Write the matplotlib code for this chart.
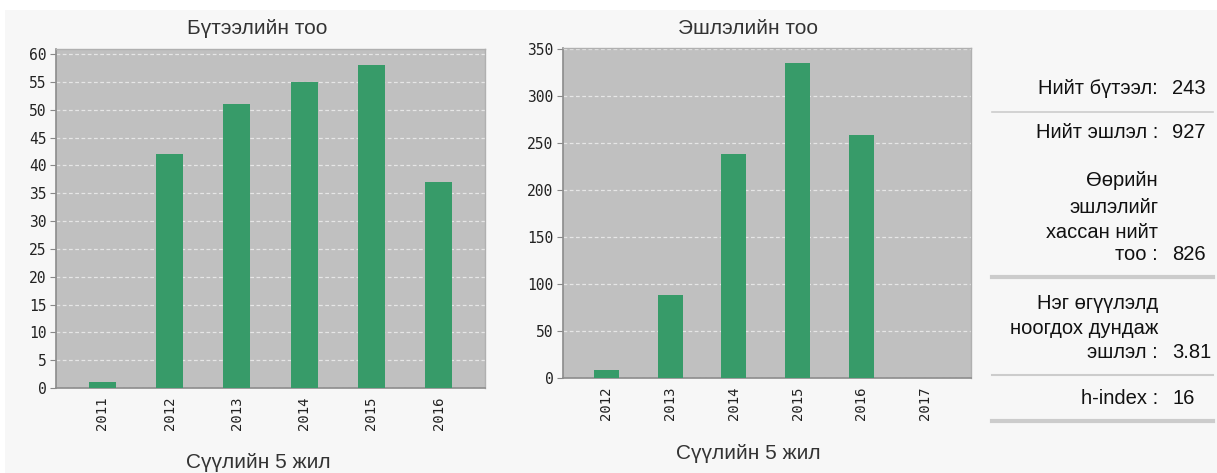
import matplotlib.pyplot as plt
from matplotlib.patches import Rectangle
import numpy as np

# data
pub_years = ['2011', '2012', '2013', '2014', '2015', '2016']
pub_counts = [1, 42, 51, 55, 58, 37]
cit_years = ['2012', '2013', '2014', '2015', '2016', '2017']
cit_counts = [8, 88, 238, 335, 258, 0]

stat_labels = [['Нийт бүтээл:'],
               ['Нийт эшлэл :'],
               ['Өөрийн', 'эшлэлийг', 'хассан нийт', 'тоо :'],
               ['Нэг өгүүлэлд', 'ноогдох дундаж', 'эшлэл :'],
               ['h-index :']]
stat_values = ['243', '927', '826', '3.81', '16']

W, H = 1217, 473
fig = plt.figure(figsize=(W / 100, H / 100), dpi=100)
fig.patch.set_facecolor('white')
fig.patches.append(Rectangle((5 / W, 0), 1 - 5 / W, 1 - 10 / H, transform=fig.transFigure,
                             facecolor='#f7f7f7', edgecolor='none', zorder=-10))

GREEN = '#379b69'
mono = 'DejaVu Sans Mono'
sans = 'Liberation Sans'


def px(x0, y0, x1, y1):
    return [x0 / W, 1 - y1 / H, (x1 - x0) / W, (y1 - y0) / H]


def bar_panel(rect, years, vals, ymax, step, xlim, width):
    ax = fig.add_axes(rect)
    ax.set_facecolor('#c0c0c0')
    x = np.arange(len(years))
    ax.bar(x, vals, width=width, color=GREEN, zorder=3)
    ax.set_xlim(*xlim)
    ax.set_ylim(0, ymax)
    ax.set_yticks(np.arange(0, ymax + 0.1, step))
    ax.set_xticks(x)
    ax.set_xticklabels(years, rotation=90, fontfamily=mono, fontsize=10, color='#222')
    for lab in ax.get_yticklabels():
        lab.set_fontfamily(mono)
        lab.set_fontsize(10.5)
        lab.set_color('#222')
    ax.tick_params(axis='x', length=0, pad=6)
    ax.tick_params(axis='y', length=4, color='#888', pad=3)
    ax.yaxis.grid(True, color='#e6e6e6', linestyle=(0, (3, 2)), linewidth=0.9, zorder=1)
    ax.set_axisbelow(True)
    for s in ['left', 'bottom']:
        ax.spines[s].set_color('#8c8c8c')
        ax.spines[s].set_linewidth(1.2)
    for s in ['top', 'right']:
        ax.spines[s].set_color('#b0b0b0')
        ax.spines[s].set_linewidth(1)
    return ax


bar_panel(px(56, 49, 485, 388), pub_years, pub_counts, 60.9, 5, (-0.69, 5.69), 0.4)
bar_panel(px(563, 48, 971, 378), cit_years, cit_counts, 351, 50, (-0.68, 5.72), 0.39)

fs_title = 15
fig.text(257 / W, 1 - 28 / H, 'Бүтээлийн тоо', ha='center', va='center',
         fontfamily=sans, fontsize=fs_title, color='#333')
fig.text(748 / W, 1 - 28 / H, 'Эшлэлийн тоо', ha='center', va='center',
         fontfamily=sans, fontsize=fs_title, color='#333')
fig.text(258 / W, 1 - 462 / H, 'Сүүлийн 5 жил', ha='center', va='center',
         fontfamily=sans, fontsize=fs_title, color='#333')
fig.text(748 / W, 1 - 453 / H, 'Сүүлийн 5 жил', ha='center', va='center',
         fontfamily=sans, fontsize=fs_title, color='#333')

# stats table on the right
fs_stat = 14.5
line_ys = [88, 132, [180, 207, 232, 255], [303, 328, 352], 398]
sep_ys = [(112, 1.2), (None, 0), (277, 3), (375, 1.5), (421, 3)]
for labels, val, ys, (sy, lw) in zip(stat_labels, stat_values, line_ys, sep_ys):
    if not isinstance(ys, list):
        ys = [ys]
    for lab, y in zip(labels, ys):
        fig.text(1158 / W, 1 - y / H, lab, ha='right', va='center',
                 fontfamily=sans, fontsize=fs_stat, color='#111')
    fig.text(1172 / W, 1 - ys[-1] / H, val, ha='left', va='center',
             fontfamily=sans, fontsize=fs_stat, color='#111')
    if sy is not None:
        fig.add_artist(plt.Line2D([992 / W, 1213 / W], [1 - sy / H, 1 - sy / H],
                                  transform=fig.transFigure, color='#cccccc', linewidth=lw))

fig.savefig('out.png', dpi=100, facecolor=fig.get_facecolor())
